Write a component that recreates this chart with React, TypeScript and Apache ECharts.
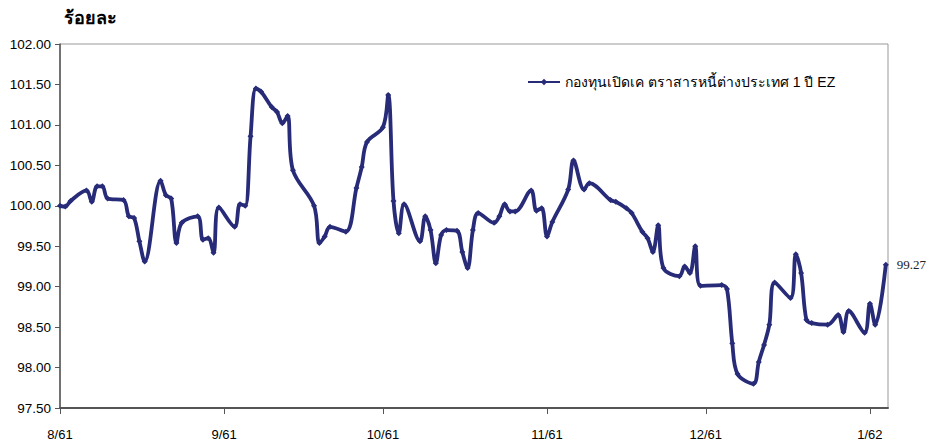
import React, { useEffect, useRef } from 'react';
import * as echarts from 'echarts';

const seriesName = 'กองทุนเปิดเค ตราสารหนี้ต่างประเทศ 1 ปี EZ';
const unitLabel = 'ร้อยละ';

const dates = [
  '2018-08-01', '2018-08-02', '2018-08-03', '2018-08-06', '2018-08-07', '2018-08-08', '2018-08-09', '2018-08-10',
  '2018-08-13', '2018-08-14', '2018-08-15', '2018-08-16', '2018-08-17', '2018-08-20', '2018-08-21', '2018-08-22',
  '2018-08-23', '2018-08-24', '2018-08-27', '2018-08-28', '2018-08-29', '2018-08-30', '2018-08-31',
  '2018-09-03', '2018-09-04', '2018-09-05', '2018-09-06', '2018-09-07', '2018-09-08', '2018-09-10', '2018-09-11',
  '2018-09-12', '2018-09-13', '2018-09-14', '2018-09-18', '2018-09-19', '2018-09-20', '2018-09-21', '2018-09-24',
  '2018-09-26', '2018-09-27', '2018-09-28',
  '2018-10-01', '2018-10-02', '2018-10-03', '2018-10-04', '2018-10-05', '2018-10-08', '2018-10-09', '2018-10-10',
  '2018-10-11', '2018-10-12', '2018-10-13', '2018-10-15', '2018-10-16', '2018-10-17', '2018-10-18', '2018-10-19',
  '2018-10-22', '2018-10-23', '2018-10-24', '2018-10-25', '2018-10-26', '2018-10-29', '2018-10-30', '2018-10-31',
  '2018-11-01', '2018-11-02', '2018-11-05', '2018-11-06', '2018-11-08', '2018-11-09', '2018-11-13', '2018-11-14',
  '2018-11-16', '2018-11-17', '2018-11-19', '2018-11-20', '2018-11-21', '2018-11-22', '2018-11-23', '2018-11-26',
  '2018-11-27', '2018-11-28', '2018-11-29', '2018-11-30',
  '2018-12-04', '2018-12-05', '2018-12-06', '2018-12-07', '2018-12-10', '2018-12-11', '2018-12-12', '2018-12-13',
  '2018-12-14', '2018-12-17', '2018-12-18', '2018-12-19', '2018-12-20', '2018-12-21', '2018-12-24', '2018-12-26',
  '2018-12-27', '2018-12-28', '2018-12-31',
  '2019-01-01', '2019-01-02', '2019-01-04',
];

const values = [
  100.0, 99.99, 100.06, 100.19, 100.05, 100.24, 100.24, 100.09,
  100.07, 99.87, 99.85, 99.56, 99.31, 100.31, 100.13, 100.09,
  99.54, 99.79, 99.87, 99.58, 99.6, 99.42, 99.98,
  99.74, 100.02, 100.0, 100.86, 101.45, 101.41, 101.22, 101.16,
  101.02, 101.11, 100.44, 100.0, 99.54, 99.62, 99.74, 99.68,
  100.22, 100.48, 100.79,
  100.97, 101.37, 100.06, 99.66, 100.02, 99.56, 99.87, 99.7,
  99.29, 99.64, 99.7, 99.69, 99.43, 99.23, 99.7, 99.91,
  99.79, 99.87, 100.02, 99.93, 99.93, 100.19, 99.94, 99.97,
  99.62, 99.8, 100.2, 100.56, 100.2, 100.28, 100.07, 100.05,
  99.97, 99.91, 99.68, 99.6, 99.43, 99.76, 99.23, 99.13,
  99.25, 99.17, 99.5, 99.01,
  99.02, 98.97, 98.3, 97.92, 97.8, 98.07, 98.28, 98.53,
  99.05, 98.86, 99.4, 99.17, 98.59, 98.55, 98.53, 98.65,
  98.44, 98.7, 98.43,
  98.79, 98.53, 99.27,
];

const axisStart = '2018-08-01';
const axisEnd = '2019-01-04 10:00';
const yMin = 97.5;
const yMax = 102;
const yStep = 0.5;

const lineColor = '#272b78';
const sans = "'Liberation Sans', 'Noto Sans', 'DejaVu Sans', sans-serif";

export default function App() {
  const ref = useRef<HTMLDivElement>(null);

  useEffect(() => {
    if (!ref.current) return;
    const chart = echarts.init(ref.current, null, { renderer: 'svg' });
    const last = dates.length - 1;
    const data = dates.map((d, i) =>
      i === last
        ? {
            value: [d, values[i]],
            label: {
              show: true,
              position: 'right',
              distance: 8,
              formatter: (p: any) => Number(p.value[1]).toFixed(2),
              fontFamily: "'Liberation Serif', 'DejaVu Serif', serif",
              fontSize: 13,
              color: '#222',
            },
          }
        : [d, values[i]]
    );

    chart.setOption({
      animation: false,
      backgroundColor: '#ffffff',
      title: {
        text: unitLabel,
        left: 59,
        top: 4,
        textStyle: { fontSize: 18, fontWeight: 'bold', color: '#000', fontFamily: sans },
      },
      legend: {
        left: 522,
        top: 70,
        itemWidth: 32,
        itemHeight: 8,
        itemGap: 10,
        textStyle: { fontSize: 14, color: '#000', fontFamily: sans },
        data: [seriesName],
      },
      grid: {
        left: 60,
        right: 44,
        top: 44,
        bottom: 35,
        show: true,
        borderColor: '#999',
        borderWidth: 1,
        backgroundColor: 'transparent',
      },
      xAxis: {
        type: 'time',
        min: axisStart,
        max: axisEnd,
        splitNumber: 5,
        axisLine: { show: true, lineStyle: { color: '#555', width: 2 } },
        axisTick: { show: true, length: 6, lineStyle: { color: '#555', width: 1 } },
        splitLine: { show: false },
        minorTick: { show: false },
        axisLabel: {
          margin: 20,
          fontSize: 13,
          color: '#000',
          fontFamily: sans,
          formatter: (val: number) => {
            const dt = new Date(val);
            return `${dt.getMonth() + 1}/${(dt.getFullYear() + 543) % 100}`;
          },
        },
      },
      yAxis: {
        type: 'value',
        min: yMin,
        max: yMax,
        interval: yStep,
        axisLine: { show: true, lineStyle: { color: '#555', width: 1.5 } },
        axisTick: { show: true, length: 5, lineStyle: { color: '#555' } },
        splitLine: { show: false },
        axisLabel: {
          margin: 9,
          fontSize: 13.5,
          color: '#000',
          fontFamily: sans,
          formatter: (v: number) => v.toFixed(2),
        },
      },
      series: [
        {
          name: seriesName,
          type: 'line',
          data,
          smooth: 0.35,
          symbol: 'diamond',
          symbolSize: 6,
          showSymbol: true,
          lineStyle: { color: lineColor, width: 3.8 },
          itemStyle: { color: lineColor },
          emphasis: { disabled: true },
        },
      ],
    });

    return () => chart.dispose();
  }, []);

  return (
    <div
      ref={ref}
      style={{ position: 'fixed', left: 0, top: 0, width: 932, height: 443 }}
    />
  );
}
